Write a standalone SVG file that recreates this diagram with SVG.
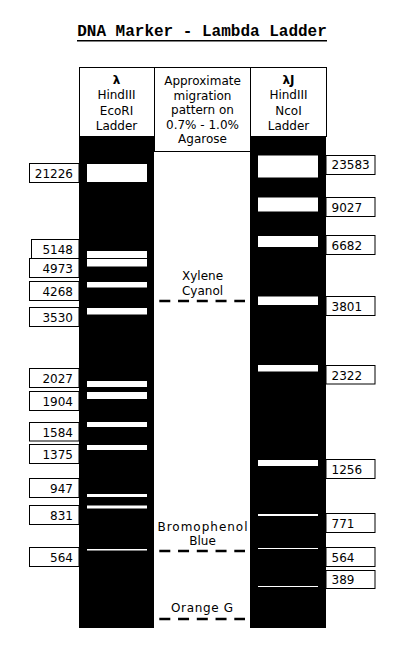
<svg xmlns="http://www.w3.org/2000/svg" width="400" height="650" viewBox="0 0 400 650">
<style>
.t{font-family:"DejaVu Sans",Verdana,sans-serif;font-size:12px;fill:#000}
.c{text-anchor:middle}
.e{text-anchor:end}
.box{fill:#fff;stroke:#000;stroke-width:1}
.lane{fill:#000}
.band{fill:#fff}
.dye{stroke:#000;stroke-width:2.5;stroke-dasharray:11 7.75}
</style>
<rect width="400" height="650" fill="#fff"/>
<g id="title">
<text x="202" y="36" text-anchor="middle" style="font-family:'Liberation Mono','Courier New',monospace;font-size:16px;font-weight:bold">DNA Marker - Lambda Ladder</text>
<line x1="77" y1="40.75" x2="327" y2="40.75" stroke="#000" stroke-width="1.5"/>
</g>
<g id="header-left">
<rect class="box" x="79.5" y="67.5" width="75" height="69"/>
<text class="t c" x="116.5" y="83.5" font-weight="bold">λ</text>
<text class="t c" x="116.5" y="99">HindIII</text>
<text class="t c" x="116.5" y="114.5">EcoRI</text>
<text class="t c" x="116.5" y="130">Ladder</text>
</g>
<g id="header-middle">
<rect class="box" x="154.5" y="67.5" width="96" height="84"/>
<text class="t c" x="202.5" y="85">Approximate</text>
<text class="t c" x="202.5" y="99.5">migration</text>
<text class="t c" x="202.5" y="114">pattern on</text>
<text class="t c" x="202.5" y="128.5">0.7% - 1.0%</text>
<text class="t c" x="202.5" y="143">Agarose</text>
</g>
<g id="header-right">
<rect class="box" x="250.5" y="67.5" width="76" height="69"/>
<text class="t c" x="288.5" y="83.5" font-weight="bold">λJ</text>
<text class="t c" x="288.5" y="99">HindIII</text>
<text class="t c" x="288.5" y="114.5">NcoI</text>
<text class="t c" x="288.5" y="130">Ladder</text>
</g>
<g id="lane-left">
<rect class="lane" x="79" y="136" width="75" height="492"/>
<rect class="band" x="87" y="164" width="60" height="18"/>
<rect class="band" x="87" y="251" width="60" height="7"/>
<rect class="band" x="87" y="259" width="60" height="7.5"/>
<rect class="band" x="87" y="282" width="60" height="5.5"/>
<rect class="band" x="87" y="308" width="60" height="6.5"/>
<rect class="band" x="87" y="381" width="60" height="6"/>
<rect class="band" x="87" y="392" width="60" height="7"/>
<rect class="band" x="87" y="422" width="60" height="5"/>
<rect class="band" x="87" y="445" width="60" height="5"/>
<rect class="band" x="87" y="494" width="60" height="3"/>
<rect class="band" x="87" y="505.5" width="60" height="3"/>
<rect class="band" x="87" y="549" width="60" height="1.5"/>
</g>
<g id="lane-right">
<rect class="lane" x="250" y="136" width="76" height="492"/>
<rect class="band" x="258" y="155.5" width="60" height="22"/>
<rect class="band" x="258" y="197.5" width="60" height="14"/>
<rect class="band" x="258" y="236" width="60" height="11"/>
<rect class="band" x="258" y="296.5" width="60" height="8.5"/>
<rect class="band" x="258" y="365" width="60" height="6.5"/>
<rect class="band" x="258" y="460" width="60" height="6"/>
<rect class="band" x="258" y="514" width="60" height="2"/>
<rect class="band" x="258" y="548" width="60" height="1"/>
<rect class="band" x="258" y="586" width="60" height="1"/>
</g>
<g id="labels-left">
<rect class="box" x="29.5" y="163.5" width="49.5" height="19"/><text class="t e" x="73" y="177.5">21226</text>
<rect class="box" x="31.5" y="239.5" width="47.5" height="19"/><text class="t e" x="73" y="253.5">5148</text>
<rect class="box" x="29.5" y="258.5" width="49.5" height="19"/><text class="t e" x="73" y="272.5">4973</text>
<rect class="box" x="29.5" y="281.5" width="49.5" height="19"/><text class="t e" x="73" y="295.5">4268</text>
<rect class="box" x="29.5" y="307.5" width="49.5" height="19"/><text class="t e" x="73" y="321.5">3530</text>
<rect class="box" x="29.5" y="368.5" width="49.5" height="19"/><text class="t e" x="73" y="382.5">2027</text>
<rect class="box" x="29.5" y="391.5" width="49.5" height="19"/><text class="t e" x="73" y="405.5">1904</text>
<rect class="box" x="29.5" y="422.5" width="49.5" height="18.5"/><text class="t e" x="73" y="436.5">1584</text>
<rect class="box" x="29.5" y="444.5" width="49.5" height="19"/><text class="t e" x="73" y="458.5">1375</text>
<rect class="box" x="29.5" y="478.5" width="49.5" height="19"/><text class="t e" x="73" y="492.5">947</text>
<rect class="box" x="29.5" y="505.5" width="49.5" height="19"/><text class="t e" x="73" y="519.5">831</text>
<rect class="box" x="29.5" y="547.5" width="49.5" height="19"/><text class="t e" x="73" y="561.5">564</text>
</g>
<g id="labels-right">
<rect class="box" x="326" y="155.5" width="49" height="19"/><text class="t" x="331.5" y="169">23583</text>
<rect class="box" x="326" y="197.5" width="49" height="19"/><text class="t" x="331.5" y="211.5">9027</text>
<rect class="box" x="326" y="235.5" width="49" height="19"/><text class="t" x="331.5" y="249.5">6682</text>
<rect class="box" x="326" y="296.5" width="49" height="19"/><text class="t" x="331.5" y="310.5">3801</text>
<rect class="box" x="326" y="365.5" width="49" height="18.5"/><text class="t" x="331.5" y="379.5">2322</text>
<rect class="box" x="326" y="459.5" width="49" height="19"/><text class="t" x="331.5" y="473.5">1256</text>
<rect class="box" x="326" y="513.5" width="49" height="19"/><text class="t" x="331.5" y="527.5">771</text>
<rect class="box" x="326" y="547.5" width="49" height="19"/><text class="t" x="331.5" y="561.5">564</text>
<rect class="box" x="326" y="570.5" width="49" height="18"/><text class="t" x="331.5" y="584">389</text>
</g>
<g id="dye-xylene">
<text class="t c" x="202.5" y="279.5">Xylene</text>
<text class="t c" x="202.5" y="294.5">Cyanol</text>
<line class="dye" x1="159.3" y1="301" x2="245" y2="301"/>
</g>
<g id="dye-bromophenol">
<text class="t c" x="202.5" y="530.5" textLength="90" lengthAdjust="spacing">Bromophenol</text>
<text class="t c" x="202.5" y="545">Blue</text>
<line class="dye" x1="159.3" y1="551" x2="245" y2="551"/>
</g>
<g id="dye-orange">
<text class="t c" x="202" y="611.5" textLength="62" lengthAdjust="spacing">Orange G</text>
<line class="dye" x1="159.3" y1="619" x2="245" y2="619"/>
</g>
</svg>
